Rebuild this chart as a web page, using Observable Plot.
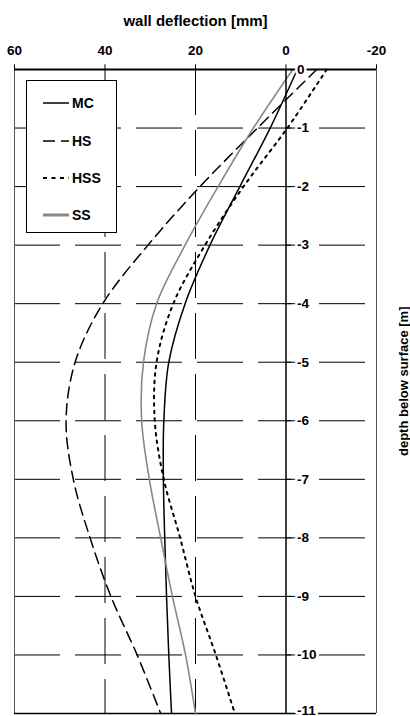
<!DOCTYPE html>
<html>
<head>
<meta charset="utf-8">
<script src="https://cdn.jsdelivr.net/npm/d3@7"></script>
<script src="https://cdn.jsdelivr.net/npm/@observablehq/plot@0.6"></script>
<style>
  html, body { margin: 0; padding: 0; background: #fff; }
  #wrap { position: relative; width: 410px; height: 716px; overflow: hidden; }
  #wrap svg { display: block; }
  #legend {
    position: absolute; left: 26px; top: 80px; width: 91px; height: 153px;
    border: 1px solid #000; background: #fff; box-sizing: border-box;
    font-family: "Liberation Sans", Arial, sans-serif; font-weight: bold; font-size: 14px;
  }
  .item { position: absolute; left: 16px; height: 16px; display: flex; align-items: center; }
  .item svg { margin-right: 3px; }
</style>
</head>
<body>
<div id="wrap"></div>
<script>
// ---- data ----
const depth = [0, -1, -2, -3, -4, -5, -6, -7, -8, -9, -10, -11];
const MC  = [-2.5, 3.5, 10.2, 16.8, 22.3, 25.9, 27.0, 27.1, 26.8, 26.4, 25.9, 25.3];
const HS  = [-6.8, 6.3, 19.0, 30.5, 40.5, 46.6, 48.6, 47.0, 43.3, 38.7, 32.9, 27.7];
const HSS = [-9.0, -0.3, 9.4, 17.9, 24.9, 28.6, 29.0, 27.0, 23.4, 20.0, 15.5, 11.3];
const SS  = [-1.5, 7.2, 15.0, 22.3, 28.6, 31.5, 31.9, 30.2, 27.7, 25.1, 22.2, 20.0];
const seriesNames = ["MC", "HS", "HSS", "SS"];
const xTicks = [60, 40, 20, 0, -20];
const yTicks = [0, -1, -2, -3, -4, -5, -6, -7, -8, -9, -10, -11];
const gridY = [-1, -2, -3, -4, -5, -6, -7, -8, -9, -10];
const gridX = [40, 20];
const title = "wall deflection [mm]";
const yTitle = "depth below surface [m]";

const styles = {
  MC:  {stroke: "#000", strokeWidth: 1.5},
  HS:  {stroke: "#000", strokeWidth: 1.5, strokeDasharray: "11,6"},
  HSS: {stroke: "#000", strokeWidth: 2, strokeDasharray: "2.5,5"},
  SS:  {stroke: "#888", strokeWidth: 1.6}
};
const values = {MC, HS, HSS, SS};
const rows = seriesNames.flatMap(s => depth.map((d, i) => ({series: s, depth: d, defl: values[s][i]})));

const font = "'Liberation Sans', Arial, sans-serif";
const lastTick = yTicks[yTicks.length - 1];

const chart = Plot.plot({
  width: 410, height: 716,
  marginTop: 69, marginBottom: 3, marginLeft: 14, marginRight: 34,
  x: {domain: [60, -20], axis: null},
  y: {domain: [-11, 0], axis: null},
  style: {fontFamily: font, background: "#fff", overflow: "visible"},
  marks: [
    // dashed grid
    Plot.ruleY(gridY, {y: d => d, x1: 60, x2: -20, stroke: "#000", strokeWidth: 1, strokeDasharray: "46,15"}),
    Plot.ruleX(gridX, {x: d => d, y1: 0, y2: -11, stroke: "#000", strokeWidth: 1, strokeDasharray: "46,15"}),
    // frame
    Plot.ruleX([60, -20], {x: d => d, y1: 0.07, y2: -11, stroke: "#555", strokeWidth: 1}),
    Plot.ruleY([-11], {y: d => d, x1: 60, x2: -20, stroke: "#000", strokeWidth: 1.5}),
    Plot.ruleX(xTicks, {x: d => d, y1: 0, y2: 0.08, stroke: "#000", strokeWidth: 1}),
    // curves
    ...seriesNames.map(s => Plot.line(rows.filter(r => r.series === s), {x: "defl", y: "depth", curve: "catmull-rom", ...styles[s]})),
    // axes lines
    Plot.ruleY([0], {y: d => d, x1: 60, x2: -20, stroke: "#000", strokeWidth: 2}),
    Plot.ruleX([0], {x: d => d, y1: 0, y2: -11, stroke: "#000", strokeWidth: 1.5}),
    Plot.ruleY(yTicks, {y: d => d, x1: 0, x2: -1.3, stroke: "#000", strokeWidth: 1}),
    // y tick labels
    Plot.text(yTicks.filter(d => d !== lastTick), {x: 0, y: d => d, text: d => String(d), dx: 11, textAnchor: "start",
      fontSize: 13.5, fontWeight: "bold", fill: "#000", stroke: "#fff", strokeWidth: 5}),
    Plot.text([lastTick], {x: 0, y: d => d, text: d => String(d), dx: 11, dy: 1, textAnchor: "start", lineAnchor: "bottom",
      fontSize: 13.5, fontWeight: "bold", fill: "#000", stroke: "#fff", strokeWidth: 5}),
    // x tick labels
    Plot.text(xTicks, {x: d => d, frameAnchor: "top", dy: -24, text: d => String(d),
      fontSize: 13.5, fontWeight: "bold", fill: "#000"}),
    // titles
    Plot.text([title], {frameAnchor: "top", dy: -54, text: d => d, fontSize: 15, fontWeight: "bold", fill: "#000"}),
    Plot.text([yTitle], {frameAnchor: "right", dx: 27, dy: -85, rotate: -90, text: d => d, fontSize: 13, fontWeight: "bold", fill: "#000"})
  ]
});

const wrap = document.getElementById("wrap");
wrap.appendChild(chart);

// legend overlay (inside plot area, top-left)
const legend = document.createElement("div");
legend.id = "legend";
const legendTops = [14, 52, 89, 126];
seriesNames.forEach((s, i) => {
  const st = styles[s];
  const it = document.createElement("div");
  it.className = "item";
  it.style.top = legendTops[i] + "px";
  const dash = s === "HS" ? "12,6" : s === "HSS" ? "4,4.5" : "none";
  const sw = s === "SS" ? 3 : st.strokeWidth;
  it.innerHTML = `<svg width="26" height="16"><line x1="0" x2="26" y1="8" y2="8" stroke="${st.stroke}" stroke-width="${sw}" stroke-dasharray="${dash}"/></svg><span>${s}</span>`;
  legend.appendChild(it);
});
wrap.appendChild(legend);
</script>
</body>
</html>
